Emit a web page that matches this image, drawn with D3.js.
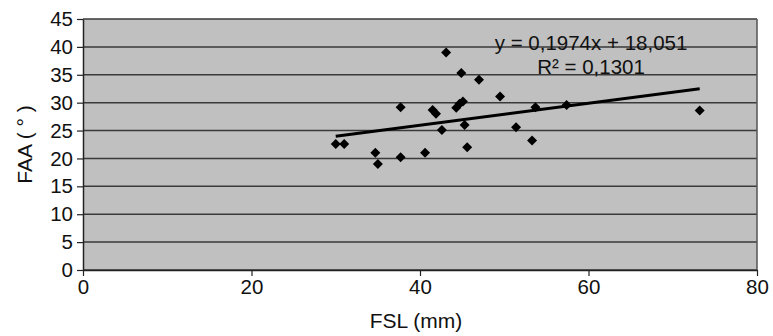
<!DOCTYPE html>
<html>
<head>
<meta charset="utf-8">
<script src="https://cdn.jsdelivr.net/npm/d3@7"></script>
<style>
  body { margin: 0; background: #fff; }
  svg text { font-family: "Liberation Sans", Arial, sans-serif; fill: #111; }
</style>
</head>
<body>
<div id="chart"></div>
<script>
// FSL (mm) vs FAA (°)
const fsl = [30, 31, 34.7, 35, 37.7, 37.7, 40.6, 41.5, 41.9, 42.6, 43.1, 44.3, 44.7, 45.1,
             44.9, 45.3, 45.6, 47, 49.5, 51.4, 53.3, 53.7, 57.4, 73.2];
const faa = [22.6, 22.6, 21, 19, 29.2, 20.2, 21, 28.7, 28, 25.1, 39, 29.1, 29.8, 30.2,
             35.3, 26, 22, 34.1, 31.1, 25.6, 23.2, 29.2, 29.6, 28.6];
const xTicks = [0, 20, 40, 60, 80];
const yTicks = [0, 5, 10, 15, 20, 25, 30, 35, 40, 45];
const slope = 0.1974, intercept = 18.051;
const eqLabel = "y = 0,1974x + 18,051";
const r2Label = "R² = 0,1301";

const W = 773, H = 336;
const margin = { top: 19, right: 16, bottom: 66, left: 83 };
const svg = d3.select("#chart").append("svg").attr("width", W).attr("height", H);
const iw = W - margin.left - margin.right, ih = H - margin.top - margin.bottom;
const g = svg.append("g").attr("transform", `translate(${margin.left},${margin.top})`);

const x = d3.scaleLinear().domain([0, 80]).range([0, iw]);
const y = d3.scaleLinear().domain([0, 45]).range([ih, 0]);

g.append("rect").attr("width", iw).attr("height", ih).attr("fill", "#c0c0c0");

// gridlines
g.selectAll("line.grid").data(yTicks).join("line")
  .attr("x1", 0).attr("x2", iw)
  .attr("y1", d => y(d)).attr("y2", d => y(d))
  .attr("stroke", "#3a3a3a").attr("stroke-width", 1.5);

// right border
g.append("line").attr("x1", iw).attr("x2", iw).attr("y1", 0).attr("y2", ih)
  .attr("stroke", "#555").attr("stroke-width", 1.5);

const xAxis = g.append("g").attr("transform", `translate(0,${ih})`)
  .call(d3.axisBottom(x).tickValues(xTicks).tickSize(6).tickPadding(3).tickSizeOuter(0));
const yAxis = g.append("g")
  .call(d3.axisLeft(y).tickValues(yTicks).tickSize(6).tickPadding(4).tickSizeOuter(0));
[xAxis, yAxis].forEach(a => {
  a.select(".domain").attr("stroke", "#222").attr("stroke-width", 1.5);
  a.selectAll(".tick line").attr("stroke", "#222").attr("stroke-width", 1.2);
  a.selectAll("text").attr("font-size", 20.5).attr("font-family", "Liberation Sans, Arial, sans-serif").attr("fill", "#111");
});

// trendline
const xs = d3.extent(fsl);
g.append("line")
  .attr("x1", x(xs[0])).attr("y1", y(slope * xs[0] + intercept))
  .attr("x2", x(xs[1])).attr("y2", y(slope * xs[1] + intercept))
  .attr("stroke", "#000").attr("stroke-width", 3);

// diamond markers
const diamond = s => `M0,${-s}L${s},0L0,${s}L${-s},0Z`;
g.selectAll("path.pt").data(fsl.map((v, i) => [v, faa[i]])).join("path")
  .attr("d", diamond(5))
  .attr("transform", d => `translate(${x(d[0])},${y(d[1])})`)
  .attr("fill", "#000");

// equation
g.append("text").attr("x", x(60.3)).attr("y", y(39.4)).attr("text-anchor", "middle")
  .attr("font-size", 20.5).text(eqLabel);
g.append("text").attr("x", x(60.3)).attr("y", y(35.2)).attr("text-anchor", "middle")
  .attr("font-size", 20.5).text(r2Label);

// axis titles
svg.append("text").attr("x", margin.left + iw / 2 - 4).attr("y", 328).attr("text-anchor", "middle")
  .attr("font-family", "Open Sans, sans-serif").attr("font-size", 21).text("FSL (mm)");
svg.append("text").attr("transform", `translate(32,${margin.top + ih / 2}) rotate(-90)`)
  .attr("text-anchor", "middle").attr("font-family", "Open Sans, sans-serif")
  .attr("font-size", 21).text("FAA ( ° )");
</script>
</body>
</html>
